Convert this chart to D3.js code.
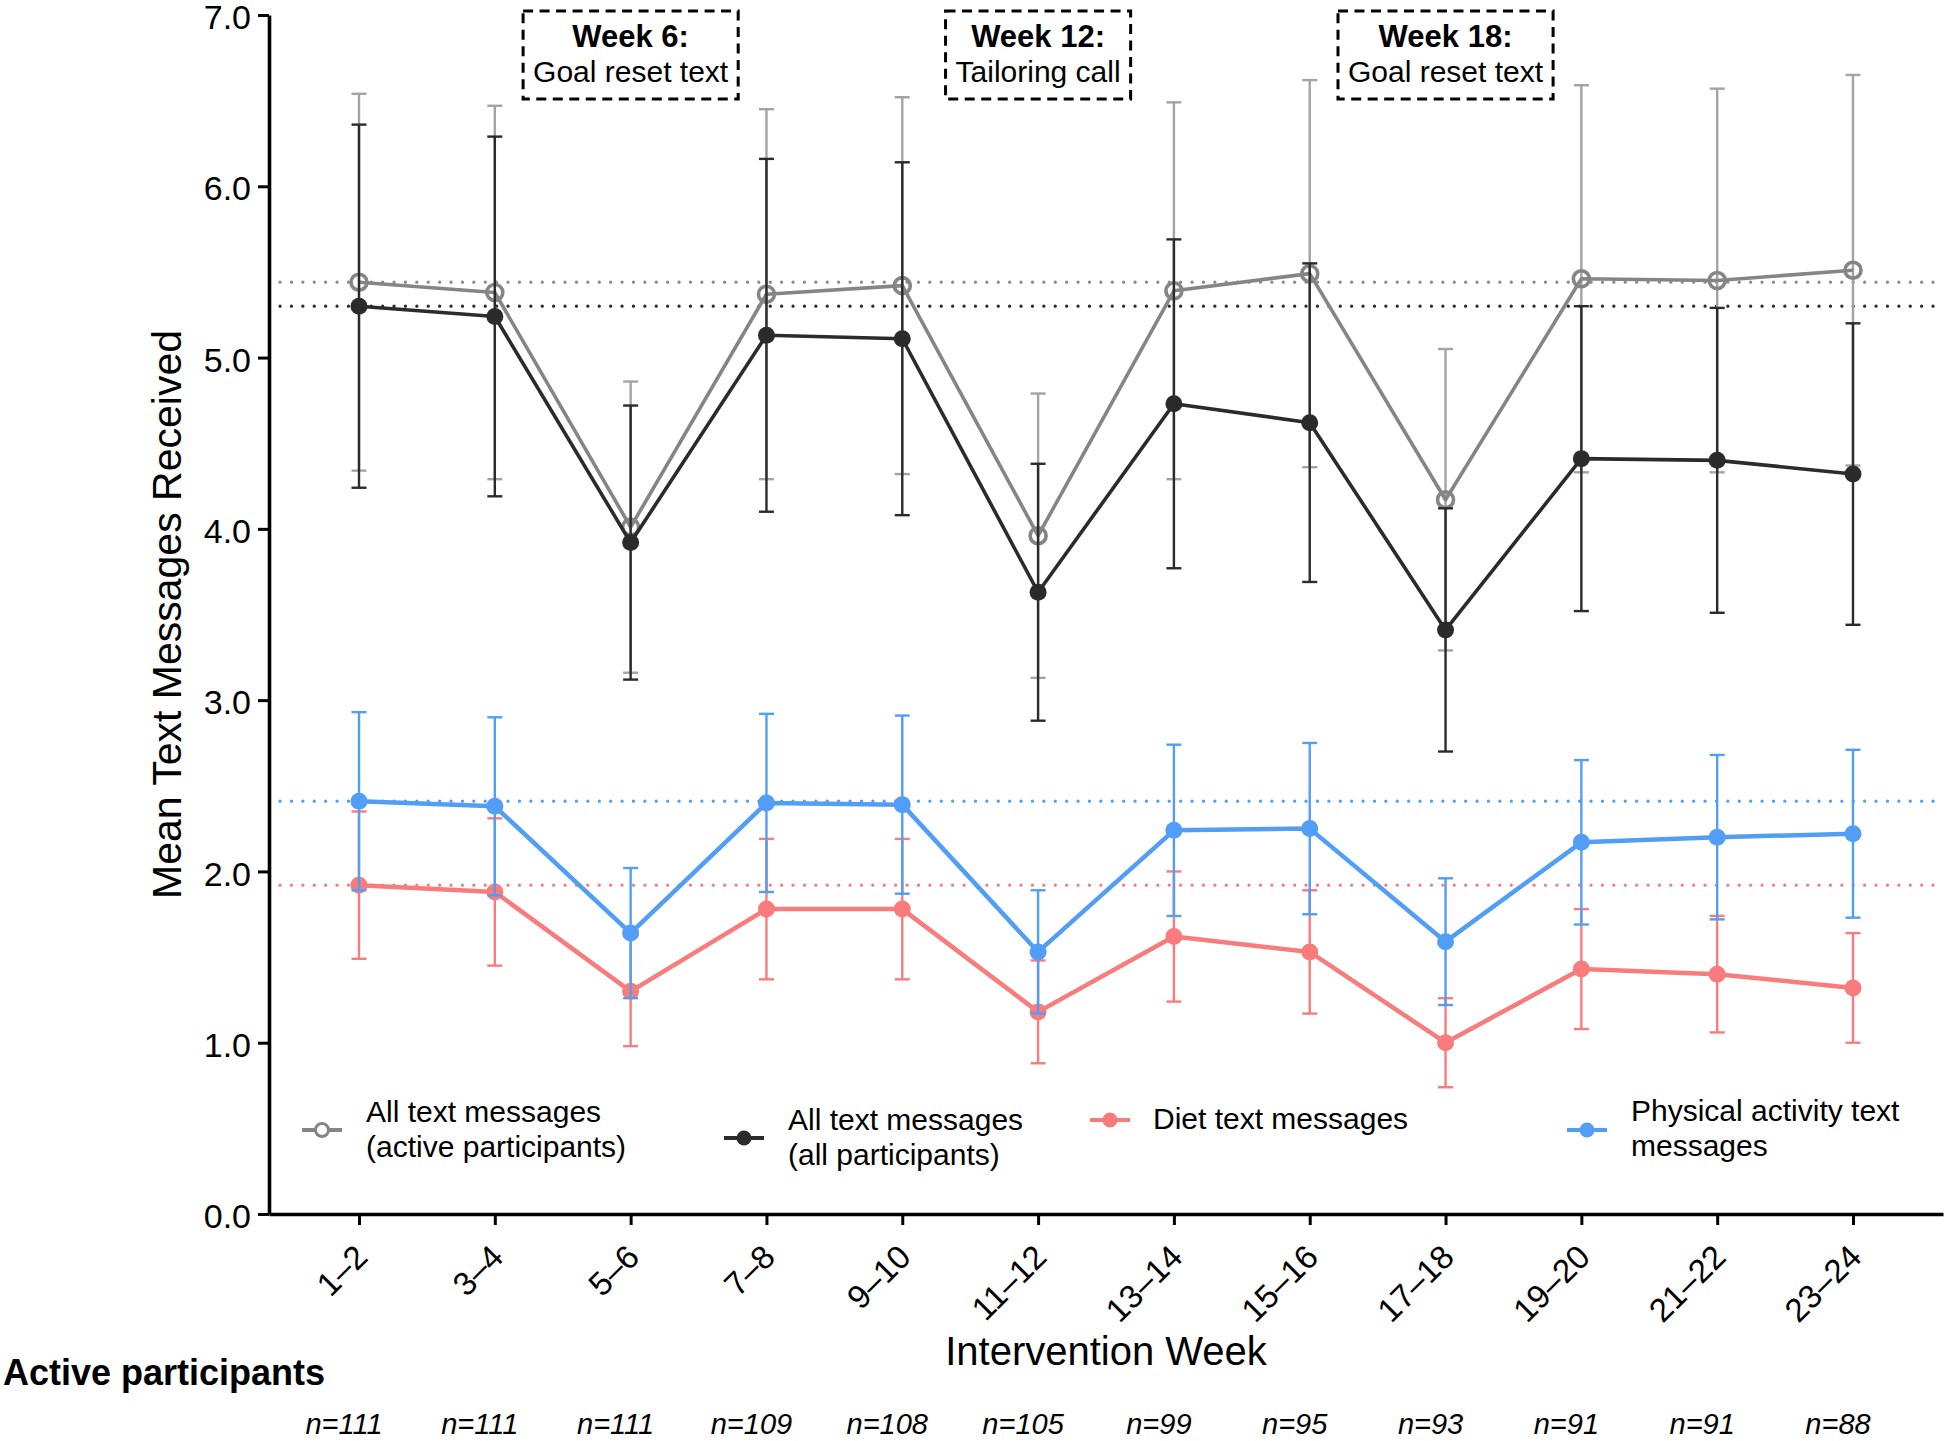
<!DOCTYPE html>
<html><head><meta charset="utf-8">
<script src="https://cdn.jsdelivr.net/npm/d3@7"></script>
<style>
body{margin:0;background:#fff}
svg{display:block}
text{font-family:"Liberation Sans", Arial, Helvetica, sans-serif;fill:#000}
</style>
</head><body>
<svg id="chart" width="1946" height="1441"></svg>
<script>
// ---------------- data ----------------
const categories = ["1–2","3–4","5–6","7–8","9–10","11–12","13–14","15–16","17–18","19–20","21–22","23–24"];
const activeMean = [5.44, 5.38, 4.01, 5.37, 5.42, 3.96, 5.39, 5.49, 4.17, 5.46, 5.45, 5.51];
const activeSD   = [1.10, 1.09, 0.85, 1.08, 1.10, 0.83, 1.10, 1.13, 0.88, 1.13, 1.12, 1.14];
const allMean    = [5.30, 5.24, 3.92, 5.13, 5.11, 3.63, 4.73, 4.62, 3.41, 4.41, 4.40, 4.32];
const allSD      = [1.06, 1.05, 0.80, 1.03, 1.03, 0.75, 0.96, 0.93, 0.71, 0.89, 0.89, 0.88];
const dietMean   = [1.92, 1.88, 1.30, 1.78, 1.78, 1.18, 1.62, 1.53, 1.00, 1.43, 1.40, 1.32];
const dietSD     = [0.43, 0.43, 0.32, 0.41, 0.41, 0.30, 0.38, 0.36, 0.26, 0.35, 0.34, 0.32];
const paMean     = [2.41, 2.38, 1.64, 2.40, 2.39, 1.53, 2.24, 2.25, 1.59, 2.17, 2.20, 2.22];
const paSD       = [0.52, 0.52, 0.38, 0.52, 0.52, 0.36, 0.50, 0.50, 0.37, 0.48, 0.48, 0.49];
const baselineValues = [5.44, 5.30, 2.41, 1.92];   // dotted reference lines (weeks 1–2)
const yTicks = [0, 1, 2, 3, 4, 5, 6, 7];
const nLabels = ["n=111","n=111","n=111","n=109","n=108","n=105","n=99","n=95","n=93","n=91","n=91","n=88"];
const annotWeeks  = ["5–6", "11–12", "17–18"];
const annotTitles = ["Week 6:", "Week 12:", "Week 18:"];
const annotTexts  = ["Goal reset text", "Tailoring call", "Goal reset text"];
const legendLabels = [["All text messages","(active participants)"],["All text messages","(all participants)"],["Diet text messages"],["Physical activity text","messages"]];

// ---------------- styles ----------------
const C = {
  grayLine: "#858585", grayErr: "#a3a3a3",
  black: "#2b2b2b", red: "#f87c7c", blue: "#529ef7"
};
const series = [
  {mean: activeMean, sd: activeSD, line: C.grayLine, err: C.grayErr, open: true,  lw: 3.6, r: 8},
  {mean: allMean,    sd: allSD,    line: C.black,    err: C.black,   open: false, lw: 3.6, r: 8.5},
  {mean: dietMean,   sd: dietSD,   line: C.red,      err: C.red,     open: false, lw: 4.5, r: 8.5},
  {mean: paMean,     sd: paSD,     line: C.blue,     err: C.blue,    open: false, lw: 4.5, r: 8.5}
];
const refColors = ["#8a8a8a", "#2b2b2b", C.blue, C.red];

const svg = d3.select("#chart");
const L = 269, R = 1943, T = 15, B = 1214;

const x = d3.scalePoint().domain(categories).range([L, R]).padding(0.6627);
const y = d3.scaleLinear().domain([0, 7]).range([B, T]);

// dotted reference lines
svg.append("g").selectAll("line").data(baselineValues).join("line")
  .attr("x1", L + 11).attr("x2", R)
  .attr("y1", d => y(d)).attr("y2", d => y(d))
  .attr("stroke", (d, i) => refColors[i])
  .attr("stroke-width", 3.2)
  .attr("stroke-linecap", "round")
  .attr("stroke-dasharray", "0.1,11.3");

// annotation boxes
const annG = svg.append("g");
annotWeeks.forEach((w, i) => {
  const g = annG.append("g");
  const cx = x(w);
  const t1 = g.append("text").attr("x", cx).attr("y", 47).attr("text-anchor", "middle")
    .attr("font-size", 31).attr("font-weight", "bold").text(annotTitles[i]);
  const t2 = g.append("text").attr("x", cx).attr("y", 82).attr("text-anchor", "middle")
    .attr("font-size", 30).text(annotTexts[i]);
  const w1 = Math.max(t1.node().getComputedTextLength(), t2.node().getComputedTextLength());
  const bw = w1 + 20;
  g.insert("rect", "text").attr("x", cx - bw / 2).attr("y", 11).attr("width", bw).attr("height", 88)
    .attr("fill", "none").attr("stroke", "#000").attr("stroke-width", 3).attr("stroke-dasharray", "10,6.5");
});

// series
const cap = 7.5;
series.forEach(s => {
  const g = svg.append("g");
  const pts = categories.map((c, i) => ({c, m: s.mean[i], sd: s.sd[i]}));
  // error bars
  const eb = g.append("g").attr("stroke", s.err).attr("stroke-width", 2.4);
  eb.selectAll(".v").data(pts).join("line")
    .attr("x1", d => x(d.c)).attr("x2", d => x(d.c))
    .attr("y1", d => y(d.m - d.sd)).attr("y2", d => y(d.m + d.sd));
  eb.selectAll(".u").data(pts).join("line").attr("class", "u")
    .attr("x1", d => x(d.c) - cap).attr("x2", d => x(d.c) + cap)
    .attr("y1", d => y(d.m + d.sd)).attr("y2", d => y(d.m + d.sd));
  eb.selectAll(".l").data(pts).join("line").attr("class", "l")
    .attr("x1", d => x(d.c) - cap).attr("x2", d => x(d.c) + cap)
    .attr("y1", d => y(d.m - d.sd)).attr("y2", d => y(d.m - d.sd));
  // line
  g.append("path").datum(pts)
    .attr("fill", "none").attr("stroke", s.line).attr("stroke-width", s.lw)
    .attr("stroke-linejoin", "round")
    .attr("d", d3.line().x(d => x(d.c)).y(d => y(d.m)));
  // markers
  g.selectAll("circle").data(pts).join("circle")
    .attr("cx", d => x(d.c)).attr("cy", d => y(d.m)).attr("r", s.r)
    .attr("fill", s.open ? "none" : s.line)
    .attr("stroke", s.line).attr("stroke-width", s.open ? 3.6 : 0);
});

// axes
const yAxis = d3.axisLeft(y).tickValues(yTicks).tickFormat(d3.format(".1f"))
  .tickSize(11).tickSizeOuter(0).tickPadding(7);
const gy = svg.append("g").attr("transform", `translate(${L},0)`).call(yAxis);
gy.select(".domain").attr("stroke", "#000").attr("stroke-width", 3.6);
gy.selectAll(".tick line").attr("stroke", "#000").attr("stroke-width", 3);
gy.selectAll(".tick text").attr("font-size", 34).attr("font-family", null).attr("fill", "#000")
  .attr("dy", "0.4em");

const xAxis = d3.axisBottom(x).tickSize(11).tickSizeOuter(0).tickFormat("");
const gx = svg.append("g").attr("transform", `translate(0,${B})`).call(xAxis);
gx.select(".domain").attr("stroke", "#000").attr("stroke-width", 3.6);
gx.selectAll(".tick line").attr("stroke", "#000").attr("stroke-width", 3);
gx.selectAll(".tick").append("text")
  .attr("text-anchor", "end").attr("font-size", 33).attr("fill", "#000")
  .attr("transform", "translate(10,45) rotate(-45)")
  .text(d => d);

// axis titles
svg.append("text").attr("transform", `translate(181,${(T + B) / 2}) rotate(-90)`)
  .attr("text-anchor", "middle").attr("font-size", 41).text("Mean Text Messages Received");
svg.append("text").attr("x", (L + R) / 2).attr("y", 1365)
  .attr("text-anchor", "middle").attr("font-size", 40).text("Intervention Week");

// active participants row
svg.append("text").attr("x", 3).attr("y", 1385).attr("font-size", 36).attr("font-weight", "bold")
  .text("Active participants");
svg.append("g").selectAll("text").data(categories).join("text")
  .attr("x", d => x(d) - 15).attr("y", 1434).attr("text-anchor", "middle")
  .attr("font-size", 29).attr("font-style", "italic")
  .text((d, i) => nLabels[i]);

// legend
const legPos = [
  {mx: 322, my: 1130, tx: 366, ty: [1122, 1157]},
  {mx: 744, my: 1138, tx: 788, ty: [1130, 1165]},
  {mx: 1110, my: 1120, tx: 1153, ty: [1129]},
  {mx: 1587, my: 1130, tx: 1631, ty: [1121, 1156]}
];
const lg = svg.append("g");
series.forEach((s, i) => {
  const p = legPos[i];
  lg.append("line").attr("x1", p.mx - 20).attr("x2", p.mx + 20).attr("y1", p.my).attr("y2", p.my)
    .attr("stroke", s.line).attr("stroke-width", 4);
  lg.append("circle").attr("cx", p.mx).attr("cy", p.my).attr("r", s.open ? 6.5 : 7.5)
    .attr("fill", s.open ? "#fff" : s.line).attr("stroke", s.line).attr("stroke-width", s.open ? 3 : 0);
  legendLabels[i].forEach((t, j) => {
    lg.append("text").attr("x", p.tx).attr("y", p.ty[j]).attr("font-size", 30).text(t);
  });
});
</script>
</body></html>
